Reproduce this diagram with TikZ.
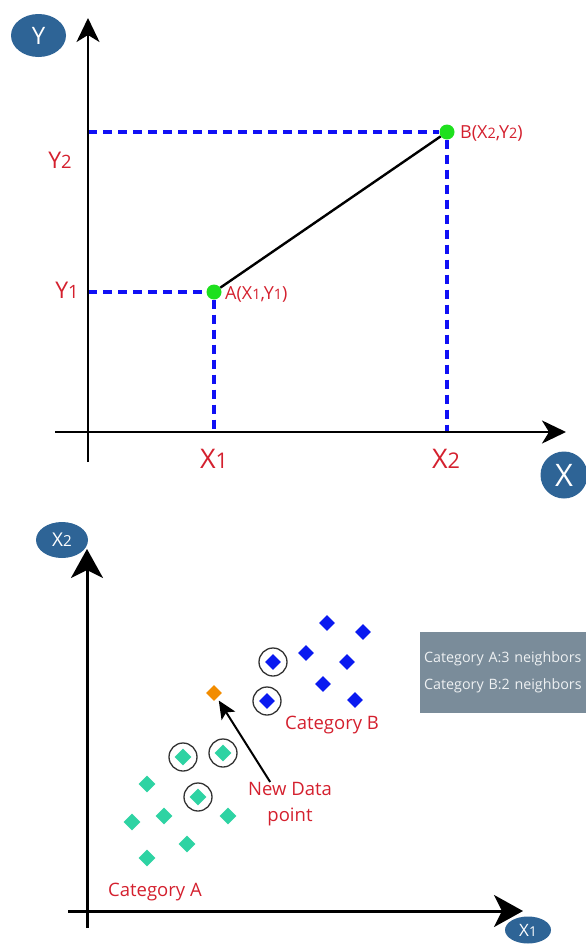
\documentclass[tikz,border=0pt]{standalone}
\usepackage{fontspec}
\setmainfont{Open Sans}
\usepackage{xcolor}
\usetikzlibrary{shapes.geometric,arrows.meta,positioning}

\definecolor{tagblue}{HTML}{2E6496}
\definecolor{labred}{HTML}{D4202E}
\definecolor{guideblue}{HTML}{1010F5}
\definecolor{dotgreen}{HTML}{1EE01E}
\definecolor{catAcol}{HTML}{2ED3A3}
\definecolor{catBcol}{HTML}{0A1AF0}
\definecolor{newcol}{HTML}{F28C00}
\definecolor{boxgray}{HTML}{7A8C9A}
\definecolor{boxtext}{HTML}{EEF1F3}

\newcommand{\lowsub}[1]{\scalebox{0.8}{#1}}

\begin{document}
\begin{tikzpicture}[x=1pt, y=-1pt,
  axis/.style={line width=2.4pt, -{Stealth[length=24pt, width=23pt, inset=7pt]}},
  bigaxis/.style={line width=3pt, -{Stealth[length=29pt, width=32pt, inset=8pt]}},
  guide/.style={draw=guideblue, line width=3.2pt, dash pattern=on 9pt off 6pt},
  dot/.style={circle, fill=dotgreen, minimum size=15pt, inner sep=0pt},
  axtag/.style={ellipse, fill=tagblue, text=white, inner sep=0pt},
  tag/.style={text=labred, inner sep=0pt},
  catA/.style={diamond, fill=catAcol, minimum size=17pt, inner sep=0pt},
  catB/.style={diamond, fill=catBcol, minimum size=16pt, inner sep=0pt},
  ring/.style={circle, draw=black!80, line width=1.3pt, minimum size=28pt, inner sep=0pt},
  infobox/.style={rectangle, fill=boxgray, text=boxtext, align=left,
                  text width=166pt, inner xsep=4pt, minimum height=81pt,
                  font=\fontsize{14.3}{27}\selectfont},
  arr/.style={line width=2pt, -{Stealth[length=18pt, width=16pt, inset=4pt]}}
]
\useasboundingbox (0,0) rectangle (586,951);

% upper plot: two points
\coordinate (yfoot) at (88,462);
\coordinate (ytip)  at (88,18);
\coordinate (xfoot) at (55,432);
\coordinate (xtip)  at (566,432);
\coordinate (ax) at (214,432);
\coordinate (bx) at (447,432);
\coordinate (ay) at (88,292);
\coordinate (by) at (88,132);

\node[dot] (pa) at (214,292) {};
\node[dot] (pb) at (447,132) {};

\draw[guide] (ay) -- (pa);
\draw[guide] (pa) -- (ax);
\draw[guide] (by) -- (pb);
\draw[guide] (pb) -- (bx);
\draw[line width=2.4pt] (pa) -- (pb);

\draw[axis] (yfoot) -- (ytip);
\draw[axis] (xfoot) -- (xtip);

\node[axtag, minimum width=55pt, minimum height=43pt, font=\fontsize{24}{26}\selectfont]
     (ylab) at (38.5,35.5) {Y};
\node[axtag, circle, minimum size=47pt, font=\fontsize{31}{33}\selectfont]
     (xlab) at (564,475) {X};

\node[tag, font=\fontsize{23}{25}\selectfont] (y2) at (60,160) {Y\lowsub{2}};
\node[tag, font=\fontsize{23}{25}\selectfont] (y1) at (67,290) {Y\lowsub{1}};
\node[tag, font=\fontsize{27}{29}\selectfont] (x1) at (214,459) {X\lowsub{1}};
\node[tag, font=\fontsize{27}{29}\selectfont] (x2) at (446,459) {X\lowsub{2}};
\node[tag, font=\fontsize{18}{20}\selectfont, anchor=west] (alab) at (225,294) {A(X\lowsub{1},Y\lowsub{1})};
\node[tag, font=\fontsize{18}{20}\selectfont, anchor=west] (blab) at (460,133) {B(X\lowsub{2},Y\lowsub{2})};

% lower plot: k nearest neighbours
\coordinate (vfoot) at (87,928);
\coordinate (vtip)  at (87,549);
\coordinate (hfoot) at (68,911);
\coordinate (htip)  at (523,911);
\draw[bigaxis] (vfoot) -- (vtip);
\draw[bigaxis] (hfoot) -- (htip);

\node[axtag, minimum width=52pt, minimum height=36pt, font=\fontsize{19}{21}\selectfont]
     (x2lab) at (62,540) {X\lowsub{2}};
\node[axtag, minimum width=46pt, minimum height=27pt, font=\fontsize{17}{19}\selectfont]
     (x1lab) at (528,930) {X\lowsub{1}};

\node[ring] (ra1) at (183,757) {};
\node[ring] (ra2) at (223,753) {};
\node[ring] (ra3) at (198,797) {};
\node[ring] (rb1) at (273,662) {};
\node[ring] (rb2) at (267,701) {};

\node[catA] (a1) at (183,757) {};
\node[catA] (a2) at (223,753) {};
\node[catA] (a3) at (198,797) {};
\node[catA] (a4) at (147,784) {};
\node[catA] (a5) at (164,816) {};
\node[catA] (a6) at (132,822) {};
\node[catA] (a7) at (228,816) {};
\node[catA] (a8) at (187,844) {};
\node[catA] (a9) at (147,858) {};

\node[catB] (b1) at (273,662) {};
\node[catB] (b2) at (267,701) {};
\node[catB] (b3) at (327,623) {};
\node[catB] (b4) at (363,632) {};
\node[catB] (b5) at (306,653) {};
\node[catB] (b6) at (347,662) {};
\node[catB] (b7) at (323,684) {};
\node[catB] (b8) at (355,700) {};

\node[diamond, fill=newcol, minimum size=16pt, inner sep=0pt] (newdot) at (214,693) {};

\node[tag, align=center, font=\fontsize{18.5}{26}\selectfont] (newtxt) at (290,804) {New Data\\point};
\node[tag, font=\fontsize{18.5}{20}\selectfont] (catAlab) at (155,892) {Category A};
\node[tag, font=\fontsize{18.5}{20}\selectfont] (catBlab) at (332,725) {Category B};

\draw[arr, shorten >=3pt] (newtxt.132) -- (newdot);

\node[infobox, anchor=north west] (info) at (420,632)
     {Category A:3 neighbors\\Category B:2 neighbors};
\end{tikzpicture}
\end{document}
